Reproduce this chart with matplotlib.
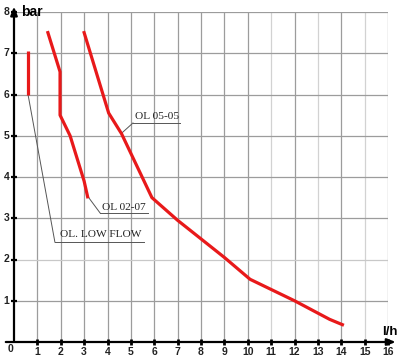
import matplotlib
matplotlib.use("Agg")
import matplotlib.pyplot as plt

# Data
low_x = [0.6, 0.6]
low_y = [6.0, 7.05]
ol0207_x = [1.45, 1.97, 1.97, 2.4, 3.0, 3.15]
ol0207_y = [7.5, 6.55, 5.5, 5.0, 3.9, 3.52]
ol0505_x = [3.0, 4.05, 4.6, 5.9, 7.0, 8.0, 9.0, 10.1, 12.0, 13.5, 14.05]
ol0505_y = [7.5, 5.55, 5.05, 3.5, 2.95, 2.5, 2.05, 1.52, 1.0, 0.55, 0.42]
x_ticks = list(range(1, 17))
y_ticks = list(range(1, 9))

fig = plt.figure(figsize=(4.0, 3.62), dpi=100)
ax = fig.add_axes([14/400, 20/362, 374/400, 330/362])
ax.set_xlim(0, 16)
ax.set_ylim(0, 8)
ax.axis('off')

light = {11, 13, 15}
for x in x_ticks:
    ax.plot([x, x], [0, 8], color='#d2d2d2' if x in light else '#9c9c9c', lw=0.9, zorder=1)
for y in y_ticks:
    ax.plot([0, 16], [y, y], color='#c8c8c8' if y == 2 else '#9c9c9c', lw=0.9, zorder=1)

red = '#e8191a'
ax.plot(low_x, low_y, color=red, lw=2.3, zorder=3, solid_capstyle='butt')
ax.plot(ol0207_x, ol0207_y, color=red, lw=2.3, zorder=3)
ax.plot(ol0505_x, ol0505_y, color=red, lw=2.3, zorder=3)

# axes with arrows
ax.annotate('', xy=(0, 8.2), xytext=(0, -0.03),
            arrowprops=dict(arrowstyle='-|>,head_length=0.5,head_width=0.2', color='black', lw=1.6),
            annotation_clip=False, zorder=4)
ax.annotate('', xy=(16.45, 0), xytext=(-0.47, 0),
            arrowprops=dict(arrowstyle='-|>,head_length=0.5,head_width=0.2', color='black', lw=1.6),
            annotation_clip=False, zorder=4)

ax.plot([0]*len(y_ticks), y_ticks, ls='none', marker='_', ms=5, mew=1.6, color='black', clip_on=False, zorder=5)
ax.plot(x_ticks, [0]*len(x_ticks), ls='none', marker='|', ms=5, mew=2.0, color='black', clip_on=False, zorder=5)

tfont = dict(family='Liberation Sans', fontweight='bold', fontsize=7.5, color='#222222')
for x in x_ticks:
    ax.text(x, -0.24, str(x), ha='center', va='center', **tfont)
for y in y_ticks:
    ax.text(-0.32, y, str(y), ha='center', va='center', **tfont)
ax.text(-0.17, -0.17, '0', ha='center', va='center', **tfont)

ax.text(0.3, 8.0, 'bar', ha='left', va='center', family='Liberation Sans', fontweight='bold', fontsize=10)
ax.text(15.75, 0.25, 'l/h', ha='left', va='center', family='Liberation Sans', fontweight='bold', fontsize=9.5)

# annotations
afont = dict(family='Liberation Serif', fontsize=8.2, color='#222222')
lc = '#555555'
# OL 05-05
ax.text(5.18, 5.47, 'OL 05-05', ha='left', va='center', **afont)
ax.plot([5.09, 7.1], [5.31, 5.31], color=lc, lw=0.7, zorder=2)
ax.plot([4.62, 5.09], [5.07, 5.31], color=lc, lw=0.7, zorder=2)
# OL 02-07
ax.text(3.78, 3.27, 'OL 02-07', ha='left', va='center', **afont)
ax.plot([3.68, 5.73], [3.13, 3.13], color=lc, lw=0.7, zorder=2)
ax.plot([3.17, 3.68], [3.52, 3.13], color=lc, lw=0.7, zorder=2)
# OL. LOW FLOW
ax.text(1.98, 2.6, 'OL. LOW FLOW', ha='left', va='center', **afont)
ax.plot([1.75, 5.56], [2.42, 2.42], color=lc, lw=0.7, zorder=2)
ax.plot([0.6, 1.75], [6.0, 2.42], color=lc, lw=0.7, zorder=2)

fig.savefig('out.png', dpi=100)
